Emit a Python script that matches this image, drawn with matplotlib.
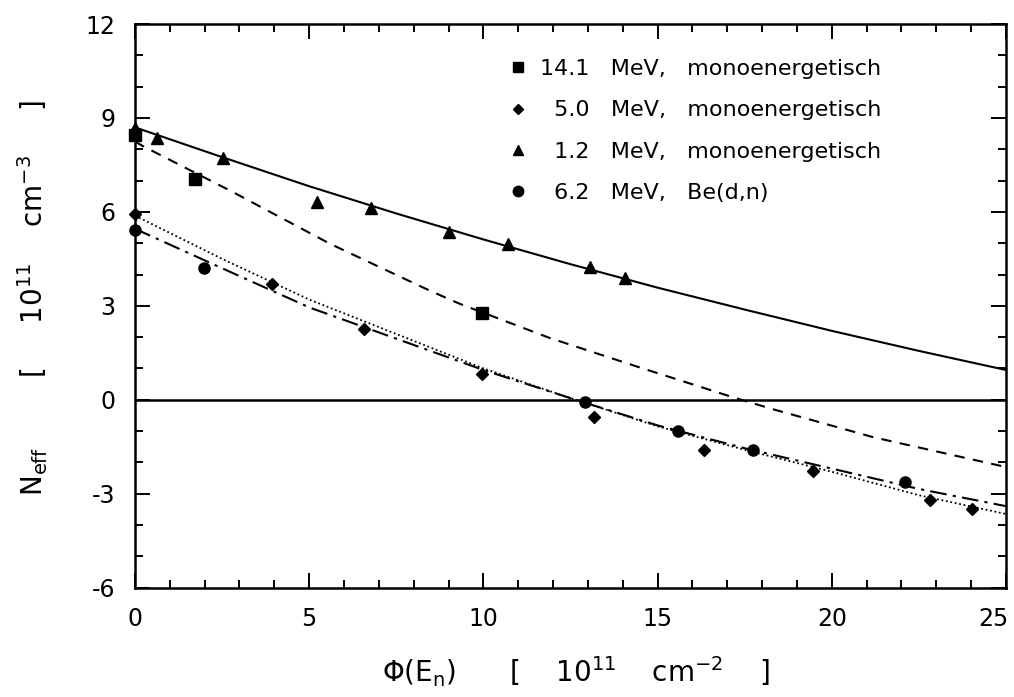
import matplotlib
matplotlib.use("Agg")
import matplotlib.pyplot as plt
from matplotlib.lines import Line2D
from matplotlib.ticker import MultipleLocator
from matplotlib.transforms import ScaledTranslation

plt.rcParams['font.family'] = ['DejaVu Sans']
plt.rcParams['mathtext.fontset'] = 'dejavusans'
plt.rcParams['axes.unicode_minus'] = False

# --- data ---
# 14.1 MeV (squares)
sq_x = [0.0, 1.72, 9.96]
sq_y = [8.45, 7.06, 2.77]
# 5.0 MeV (diamonds)
di_x = [0.0, 3.93, 6.57, 9.96, 13.17, 16.33, 19.46, 22.82, 24.03]
di_y = [5.94, 3.70, 2.26, 0.83, -0.54, -1.60, -2.27, -3.20, -3.48]
# 1.2 MeV (triangles)
tr_x = [0.0, 0.63, 2.53, 5.23, 6.77, 9.01, 10.70, 13.06, 14.07]
tr_y = [8.67, 8.35, 7.71, 6.33, 6.11, 5.37, 4.98, 4.25, 3.89]
# 6.2 MeV Be(d,n) (circles)
ci_x = [0.0, 1.98, 12.92, 15.60, 17.74, 22.10]
ci_y = [5.43, 4.22, -0.07, -0.99, -1.60, -2.63]

# fitted curves
fit_x = [0, 2.5, 5, 7.5, 10, 12.5, 15, 17.5, 20, 22.5, 25]
fit_tr = [8.7, 7.75, 6.82, 5.95, 5.12, 4.33, 3.58, 2.88, 2.2, 1.56, 0.95]
fit_sq_x = [0, 0.23, 2.73, 5.6, 8.47, 9.33, 11.91, 14.49, 17.16, 18.3, 21.2, 24.6, 25]
fit_sq = [8.25, 8.1, 6.68, 4.98, 3.48, 3.06, 1.97, 1.03, 0.08, -0.3, -1.2, -2.05, -2.15]
fit_di = [5.88, 4.5, 3.2, 2.1, 1.0, 0.05, -0.85, -1.6, -2.3, -3.05, -3.65]
fit_ci = [5.46, 4.2, 2.95, 1.95, 0.95, 0.05, -0.82, -1.55, -2.2, -2.85, -3.4]

labels = ["14.1   MeV,   monoenergetisch",
          "\u20075.0   MeV,   monoenergetisch",
          "\u20071.2   MeV,   monoenergetisch",
          "\u20076.2   MeV,   Be(d,n)"]

fig = plt.figure(figsize=(10.14, 6.97), dpi=100)
ax = fig.add_axes([0.1331, 0.157, 0.859, 0.8085])

lw = 1.5
ax.axhline(0, color='black', lw=1.8)
ax.plot(fit_x, fit_tr, color='black', lw=lw, ls='-')
ax.plot(fit_sq_x, fit_sq, color='black', lw=lw, ls=(0, (5, 4)))
ax.plot(fit_x, fit_di, color='black', lw=1.3, ls=(0, (1, 1.5)))
ax.plot(fit_x, fit_ci, color='black', lw=lw, ls=(0, (8, 3, 1.5, 3)))

ax.plot(sq_x, sq_y, 's', color='black', ms=8, clip_on=False)
ax.plot(di_x, di_y, 'D', color='black', ms=6.5, clip_on=False)
ax.plot(tr_x, tr_y, '^', color='black', ms=9, clip_on=False)
ax.plot(ci_x, ci_y, 'o', color='black', ms=8, clip_on=False)

ax.set_xlim(0, 25)
ax.set_ylim(-6, 12)
ax.xaxis.set_major_locator(MultipleLocator(5))
ax.xaxis.set_minor_locator(MultipleLocator(1))
ax.yaxis.set_major_locator(MultipleLocator(3))
ax.yaxis.set_minor_locator(MultipleLocator(1))
ax.tick_params(which='both', direction='in', top=True, right=True, width=1.4,
               labelsize=17, pad=14)
ax.tick_params(which='major', length=11)
ax.tick_params(which='minor', length=6)
for s in ax.spines.values():
    s.set_linewidth(1.8)

fig.canvas.draw()
for t in ax.xaxis.get_major_ticks():
    if abs(t.get_loc() - 25) < 1e-6:
        t.label1.set_transform(t.label1.get_transform() +
                               ScaledTranslation(-0.13, 0, fig.dpi_scale_trans))

ax.set_xlabel(r'$\mathrm{\Phi(E_n)}$      [    $\mathrm{10^{11}}$    cm$^{\mathrm{-2}}$    ]', fontsize=20)
ax.xaxis.set_label_coords(0.506, -0.118)
ax.set_ylabel(r'$\mathrm{N_{eff}}$        [     $\mathrm{10^{11}}$    cm$^{\mathrm{-3}}$     ]', fontsize=20)
ax.yaxis.set_label_coords(-0.097, 0.514)

handles = [Line2D([], [], ls='none', marker=m, color='black', ms=s)
           for m, s in [('s', 6.5), ('D', 5.5), ('^', 7), ('o', 7.5)]]
ax.legend(handles, labels, loc='upper left', bbox_to_anchor=(0.429, 0.938),
          frameon=False, fontsize=16, handlelength=0.8, handletextpad=0.6,
          labelspacing=0.96, borderpad=0, borderaxespad=0)

fig.savefig('out.png', dpi=100)
